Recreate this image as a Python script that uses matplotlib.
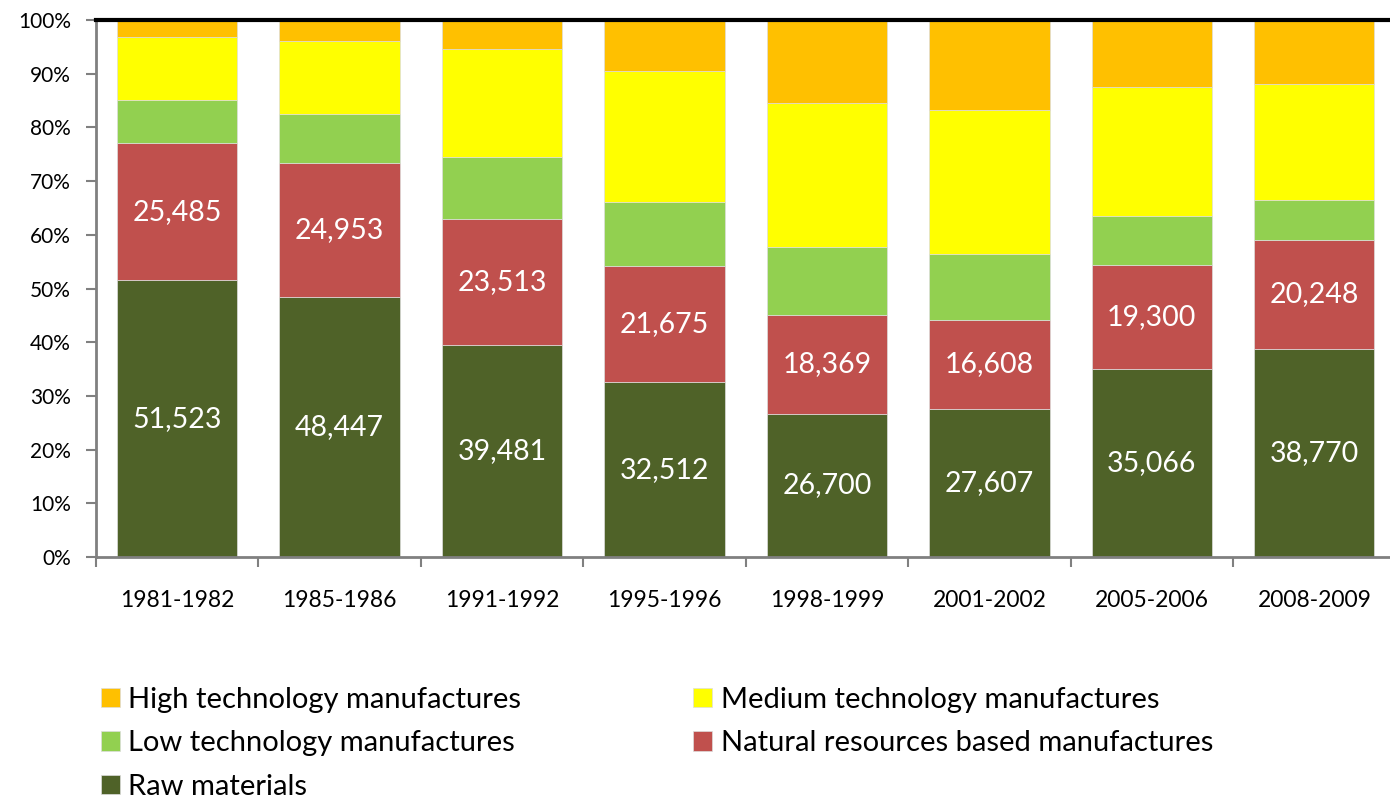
import matplotlib.pyplot as plt
import numpy as np

plt.rcParams['font.family'] = ['Lato', 'DejaVu Sans']

periods = ["1981-1982", "1985-1986", "1991-1992", "1995-1996",
           "1998-1999", "2001-2002", "2005-2006", "2008-2009"]

raw = [51.523, 48.447, 39.481, 32.512, 26.700, 27.607, 35.066, 38.770]
natural = [25.485, 24.953, 23.513, 21.675, 18.369, 16.608, 19.300, 20.248]
low_tech = [8.1, 9.1, 11.4, 11.9, 12.7, 12.2, 9.1, 7.5]
medium_tech = [11.7, 13.6, 20.2, 24.4, 26.8, 26.8, 24.0, 21.5]
high_tech = [3.2, 3.9, 5.4, 9.5, 15.4, 16.8, 12.5, 12.0]

series = [
    ("Raw materials", raw, "#4F6228"),
    ("Natural resources based manufactures", natural, "#C0504D"),
    ("Low technology manufactures", low_tech, "#92D050"),
    ("Medium technology manufactures", medium_tech, "#FFFF00"),
    ("High technology manufactures", high_tech, "#FFC000"),
]

fig = plt.figure(figsize=(13.9, 7.97), dpi=100)
ax = fig.add_axes([0.069, 0.301, 0.935, 0.674])

x = np.arange(len(periods))
total = np.sum([s[1] for s in series], axis=0)
bottom = np.zeros(len(periods))
bars = {}
for name, vals, color in series:
    pct = np.array(vals) / total * 100
    bars[name] = ax.bar(x, pct, 0.74, bottom=bottom, color=color,
                        edgecolor="#dddddd", linewidth=0.5, label=name)
    if name in ("Raw materials", "Natural resources based manufactures"):
        for xi, b, p, v in zip(x, bottom, pct, vals):
            ax.text(xi, b + p / 2, f"{v:.3f}".replace(".", ","),
                    ha="center", va="center", color="white", fontsize=20.5)
    bottom += pct

ax.set_xlim(-0.5, 7.5)
ax.set_ylim(0, 100)
ax.set_yticks(range(0, 101, 10))
ax.set_yticklabels([f"{v}%" for v in range(0, 101, 10)], fontsize=15)
ax.set_xticks(x)
ax.set_xticklabels(periods, fontsize=16.5)
ax.set_xticks(np.arange(-0.5, 8, 1), minor=True)
ax.tick_params(axis="x", which="major", length=0, pad=24)
ax.tick_params(axis="x", which="minor", length=7, width=1.5, color="#808080")
ax.tick_params(axis="y", length=7, width=1.5, color="#808080", pad=11)

for side in ("left", "bottom"):
    ax.spines[side].set_color("#808080")
    ax.spines[side].set_linewidth(2)
ax.spines["right"].set_visible(False)
ax.spines["top"].set_color("black")
ax.spines["top"].set_linewidth(3)

# legend laid out column-first, so list column 1 then column 2
order = ["High technology manufactures", "Low technology manufactures",
         "Raw materials", "Medium technology manufactures",
         "Natural resources based manufactures"]
fig.legend([bars[n] for n in order], order, loc="upper left",
           bbox_to_anchor=(0.064, 0.153), ncol=2, frameon=False,
           fontsize=21, handlelength=0.65, handleheight=0.65,
           handletextpad=0.3, columnspacing=5.9, labelspacing=0.6,
           borderaxespad=0)

fig.savefig("out.png", dpi=100)
